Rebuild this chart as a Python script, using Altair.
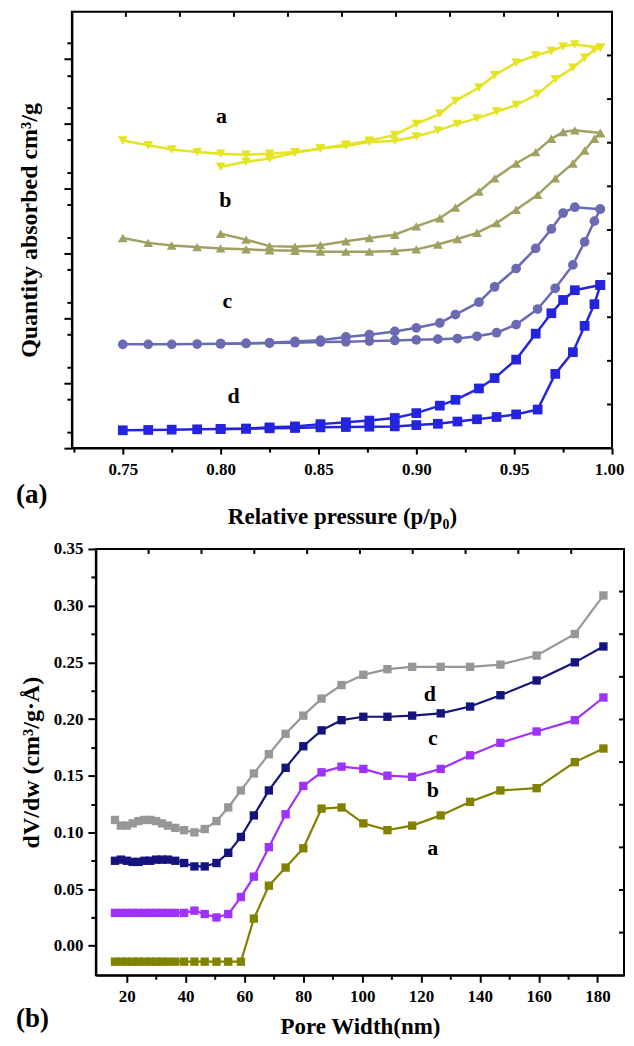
import altair as alt
import pandas as pd

# ---------------- panel (a): isotherms ----------------
p_ads = [0.750, 0.763, 0.775, 0.788, 0.800, 0.813, 0.825, 0.838, 0.851, 0.864, 0.876, 0.889,
         0.900, 0.911, 0.921, 0.931, 0.941, 0.951, 0.962, 0.971, 0.980, 0.986, 0.991, 0.994]
p_des = [0.994, 0.981, 0.975, 0.969, 0.961, 0.951, 0.940, 0.932, 0.920, 0.912, 0.900, 0.889,
         0.876, 0.864, 0.851, 0.838, 0.825, 0.813, 0.800]

a_ads = [9.49, 9.34, 9.21, 9.13, 9.08, 9.05, 9.08, 9.13, 9.24, 9.32, 9.44, 9.47,
         9.61, 9.80, 10.00, 10.17, 10.38, 10.58, 10.92, 11.38, 11.73, 12.04, 12.29, 12.35]
a_des = [12.35, 12.45, 12.39, 12.25, 12.11, 11.89, 11.50, 11.12, 10.71, 10.31, 10.00, 9.66,
         9.48, 9.36, 9.24, 9.11, 8.93, 8.83, 8.68]
b_ads = [6.48, 6.33, 6.25, 6.20, 6.16, 6.13, 6.10, 6.09, 6.06, 6.06, 6.06, 6.08,
         6.13, 6.28, 6.45, 6.64, 6.94, 7.35, 7.81, 8.32, 8.78, 9.18, 9.54, 9.72]
b_des = [9.72, 9.80, 9.75, 9.54, 9.13, 8.78, 8.32, 7.91, 7.42, 7.09, 6.84, 6.58,
         6.48, 6.38, 6.26, 6.21, 6.23, 6.43, 6.61]
c_ads = [3.20, 3.20, 3.20, 3.21, 3.22, 3.23, 3.24, 3.25, 3.27, 3.28, 3.30, 3.32,
         3.34, 3.36, 3.38, 3.45, 3.56, 3.81, 4.29, 4.93, 5.65, 6.36, 7.00, 7.37]
c_des = [7.37, 7.43, 7.25, 6.76, 6.16, 5.54, 4.97, 4.50, 4.12, 3.86, 3.71, 3.60,
         3.50, 3.43, 3.33, 3.29, 3.25, 3.23, 3.22]
d_ads = [0.55, 0.56, 0.57, 0.58, 0.59, 0.60, 0.61, 0.62, 0.64, 0.65, 0.66, 0.67,
         0.71, 0.75, 0.82, 0.89, 0.96, 1.04, 1.19, 2.29, 2.96, 3.77, 4.44, 5.03]
d_des = [5.03, 4.87, 4.57, 4.16, 3.53, 2.73, 2.16, 1.84, 1.49, 1.31, 1.08, 0.93,
         0.85, 0.80, 0.74, 0.67, 0.64, 0.60, 0.59]

iso_series = ["a", "b", "c", "d"]
iso_colors = ["#e4e422", "#a0a062", "#6a6ab2", "#2424de"]
iso_shapes = ["triangle-down", "triangle-up", "circle", "square"]
iso_label_p = [0.8004, 0.8024, 0.8035, 0.8066]
iso_label_q = [10.25, 7.65, 4.55, 1.61]

p_major = [0.75, 0.80, 0.85, 0.90, 0.95, 1.00]
p_minor = [0.725, 0.775, 0.825, 0.875, 0.925, 0.975]
q_major = [0, 1, 2, 3, 4, 5, 6, 7, 8, 9, 10, 11, 12, 13]
q_minor = [0.5, 1.5, 2.5, 3.5, 4.5, 5.5, 6.5, 7.5, 8.5, 9.5, 10.5, 11.5, 12.5]

# ---------------- panel (b): pore size distribution ----------------
w = [16, 18, 20, 22, 24, 26, 28, 30, 32, 34, 36.5, 39.5, 43, 46.5, 50.5, 54.5, 58.8,
     63.2, 68.3, 74, 80, 86.2, 93, 100.4, 108.6, 117, 126.7, 136.7, 147, 159.3, 172.3, 182]
psd_gray = [0.111, 0.106, 0.106, 0.108, 0.110, 0.111, 0.111, 0.110, 0.108, 0.106, 0.104,
            0.102, 0.100, 0.103, 0.110, 0.122, 0.137,
            0.152, 0.169, 0.187, 0.203, 0.218, 0.230, 0.239, 0.244, 0.246, 0.246, 0.246,
            0.248, 0.256, 0.275, 0.309]
psd_navy = [0.075, 0.076, 0.075, 0.074, 0.074, 0.075, 0.075, 0.076, 0.076, 0.076, 0.075,
            0.073, 0.070, 0.070, 0.073, 0.082, 0.096,
            0.115, 0.137, 0.157, 0.176, 0.190, 0.199, 0.202, 0.202, 0.203, 0.205, 0.211,
            0.221, 0.234, 0.250, 0.264]
psd_purple = [0.029, 0.029, 0.029, 0.029, 0.029, 0.029, 0.029, 0.029, 0.029, 0.029, 0.029,
              0.029, 0.031, 0.028, 0.025, 0.028, 0.043,
              0.061, 0.087, 0.116, 0.141, 0.153, 0.158, 0.156, 0.150, 0.149, 0.156, 0.168,
              0.179, 0.189, 0.199, 0.219]
psd_olive = [-0.014, -0.014, -0.014, -0.014, -0.014, -0.014, -0.014, -0.014, -0.014, -0.014,
             -0.014, -0.014, -0.014, -0.014, -0.014, -0.014, -0.014,
             0.024, 0.053, 0.069, 0.086, 0.121, 0.122, 0.108, 0.102, 0.106, 0.115, 0.127,
             0.137, 0.139, 0.162, 0.174]

psd_series = ["d", "c", "b", "a"]
psd_colors = ["#979797", "#14147c", "#9e32fa", "#828200"]
psd_label_w = [123, 124, 124, 124]
psd_label_v = [0.222, 0.183, 0.137, 0.086]

w_major = [20, 40, 60, 80, 100, 120, 140, 160, 180]
w_minor = [30, 50, 70, 90, 110, 130, 150, 170]
v_major = [0.00, 0.05, 0.10, 0.15, 0.20, 0.25, 0.30, 0.35]
v_minor = [0.025, 0.075, 0.125, 0.175, 0.225, 0.275, 0.325]

frame_ticks = [1, 2, 3, 4, 5, 6, 7, 8, 9]

FONT = "Liberation Serif"
WA, HA = 541, 437
WB, HB = 529, 427

# ---------- tables ----------
rows = []
for s, ya_, yd_ in zip(iso_series, [a_ads, b_ads, c_ads, d_ads], [a_des, b_des, c_des, d_des]):
    for i, (p, q) in enumerate(zip(p_ads, ya_)):
        rows.append({"series": s, "branch": s + "_ads", "p": p, "q": q, "order": i})
    for i, (p, q) in enumerate(zip(p_des, yd_)):
        rows.append({"series": s, "branch": s + "_des", "p": p, "q": q, "order": i})
df_iso = pd.DataFrame(rows)
df_iso_lab = pd.DataFrame({"p": iso_label_p, "q": iso_label_q, "t": iso_series})

rows = []
for s, vals in zip(psd_series, [psd_gray, psd_navy, psd_purple, psd_olive]):
    for i, (x, v) in enumerate(zip(w, vals)):
        rows.append({"sample": s, "w": x, "v": v, "order": i})
df_psd = pd.DataFrame(rows)
df_psd_lab = pd.DataFrame({"w": psd_label_w, "v": psd_label_v, "t": psd_series})
df_frame = pd.DataFrame({"k": frame_ticks})


def spacer():
    return alt.Chart(pd.DataFrame({"k": [0]})).mark_point(opacity=0, size=1).encode(
        x=alt.value(0), y=alt.value(0)
    ).properties(width=1, height=1, view=alt.ViewBackground(stroke="transparent"))


def frame_ticks_layers(width):
    top = alt.Chart(df_frame).mark_rule(color="black", strokeWidth=2).encode(
        x=alt.X("k:Q", scale=alt.Scale(domain=[0, 10], nice=False), axis=None),
        y=alt.value(0), y2=alt.value(5))
    right = alt.Chart(df_frame).mark_rule(color="black", strokeWidth=2).encode(
        y=alt.Y("k:Q", scale=alt.Scale(domain=[0, 10], nice=False), axis=None),
        x=alt.value(width - 5), x2=alt.value(width))
    return top, right


# ---------- panel (a) ----------
P_DOM = [0.724, 1.0]
Q_DOM = [0, 13.456]
xa = alt.X("p:Q", scale=alt.Scale(domain=P_DOM, nice=False, zero=False),
           axis=alt.Axis(values=p_major, format=".2f", tickSize=6, labelPadding=7,
                         labelFlush=1, labelFlushOffset=12, labelOverlap=False,
                         title="Relative pressure (p/p₀)", titleFontSize=23, titlePadding=28))
ya = alt.Y("q:Q", scale=alt.Scale(domain=Q_DOM, nice=False, zero=False),
           axis=alt.Axis(values=q_major, labels=False, tickSize=8,
                         title="Quantity absorbed cm³/g", titleFontSize=24, titlePadding=21))
col_a = alt.Color("series:N", scale=alt.Scale(domain=iso_series, range=iso_colors), legend=None)
shp_a = alt.Shape("series:N", scale=alt.Scale(domain=iso_series, range=iso_shapes), legend=None)

lines_a = alt.Chart(df_iso).mark_line(strokeWidth=2.5).encode(
    x=xa, y=ya, color=col_a, detail="branch:N", order="order:Q")
pts_a = alt.Chart(df_iso).mark_point(filled=True, size=95, opacity=1).encode(
    x="p:Q", y="q:Q", color=col_a, shape=shp_a)
lab_a = alt.Chart(df_iso_lab).mark_text(font=FONT, fontWeight="bold", fontSize=22,
                                        color="black", align="center", baseline="middle").encode(
    x="p:Q", y="q:Q", text="t:N")
tag_a = alt.Chart(pd.DataFrame({"t": ["(a)"]})).mark_text(
    font=FONT, fontWeight="bold", fontSize=27, color="black", align="left",
    baseline="alphabetic").encode(x=alt.value(-56), y=alt.value(492), text="t:N")

minor_a = alt.Chart(df_iso).mark_point(opacity=0, size=1).encode(
    x=alt.X("p:Q", scale=alt.Scale(domain=P_DOM, nice=False, zero=False),
            axis=alt.Axis(orient="bottom", values=p_minor, labels=False, tickSize=4,
                          domain=False, title=None)),
    y=alt.Y("q:Q", scale=alt.Scale(domain=Q_DOM, nice=False, zero=False),
            axis=alt.Axis(orient="left", values=q_minor, labels=False, tickSize=5,
                          domain=False, title=None)))
top_a, right_a = frame_ticks_layers(WA)

panel_a = alt.layer(
    alt.layer(lines_a, pts_a, lab_a, tag_a), minor_a, top_a, right_a
).resolve_scale(x="independent", y="independent").properties(width=WA, height=HA)

# ---------- panel (b) ----------
W_DOM = [9.5, 189]
V_DOM = [-0.026, 0.35]
xb = alt.X("w:Q", scale=alt.Scale(domain=W_DOM, nice=False, zero=False),
           axis=alt.Axis(values=w_major, tickSize=7, labelPadding=6, labelFlush=False,
                         labelOverlap=False, title="Pore Width(nm)", titleFontSize=23,
                         titlePadding=11))
yb = alt.Y("v:Q", scale=alt.Scale(domain=V_DOM, nice=False, zero=False),
           axis=alt.Axis(values=v_major, format=".2f", tickSize=8, labelPadding=5,
                         labelFlush=False, labelOverlap=False,
                         title="dV/dw (cm³/g·Å)", titleFontSize=24, titlePadding=10))
col_b = alt.Color("sample:N", scale=alt.Scale(domain=psd_series, range=psd_colors), legend=None)

lines_b = alt.Chart(df_psd).mark_line(strokeWidth=2.2).encode(
    x=xb, y=yb, color=col_b, detail="sample:N", order="order:Q")
pts_b = alt.Chart(df_psd).mark_point(filled=True, shape="square", size=70, opacity=1).encode(
    x="w:Q", y="v:Q", color=col_b)
lab_b = alt.Chart(df_psd_lab).mark_text(font=FONT, fontWeight="bold", fontSize=22,
                                        color="black", align="center", baseline="middle").encode(
    x="w:Q", y="v:Q", text="t:N")
tag_b = alt.Chart(pd.DataFrame({"t": ["(b)"]})).mark_text(
    font=FONT, fontWeight="bold", fontSize=27, color="black", align="left",
    baseline="alphabetic").encode(x=alt.value(-80), y=alt.value(479), text="t:N")

minor_b = alt.Chart(df_psd).mark_point(opacity=0, size=1).encode(
    x=alt.X("w:Q", scale=alt.Scale(domain=W_DOM, nice=False, zero=False),
            axis=alt.Axis(orient="bottom", values=w_minor, labels=False, tickSize=4,
                          domain=False, title=None)),
    y=alt.Y("v:Q", scale=alt.Scale(domain=V_DOM, nice=False, zero=False),
            axis=alt.Axis(orient="left", values=v_minor, labels=False, tickSize=5,
                          domain=False, title=None)))
top_b, right_b = frame_ticks_layers(WB)

panel_b = alt.layer(
    alt.layer(lines_b, pts_b, lab_b, tag_b), minor_b, top_b, right_b
).resolve_scale(x="independent", y="independent").properties(width=WB, height=HB)

row_a = alt.hconcat(spacer(), panel_a, spacing=0)
row_b = alt.hconcat(spacer(), panel_b, spacing=0)

chart = alt.vconcat(row_a, row_b, spacing=10).resolve_scale(
    color="independent", shape="independent"
).properties(
    padding={"left": 3, "top": 1, "right": 0, "bottom": 0}
).configure_view(stroke="black", strokeWidth=2).configure_axis(
    grid=False, domainColor="black", domainWidth=2, tickColor="black", tickWidth=2,
    labelFont=FONT, labelFontWeight="bold", labelFontSize=17, labelColor="black",
    titleFont=FONT, titleFontWeight="bold", titleFontSize=22, titleColor="black"
)

chart.save("out.html", embed_options={"renderer": "svg", "actions": False})
